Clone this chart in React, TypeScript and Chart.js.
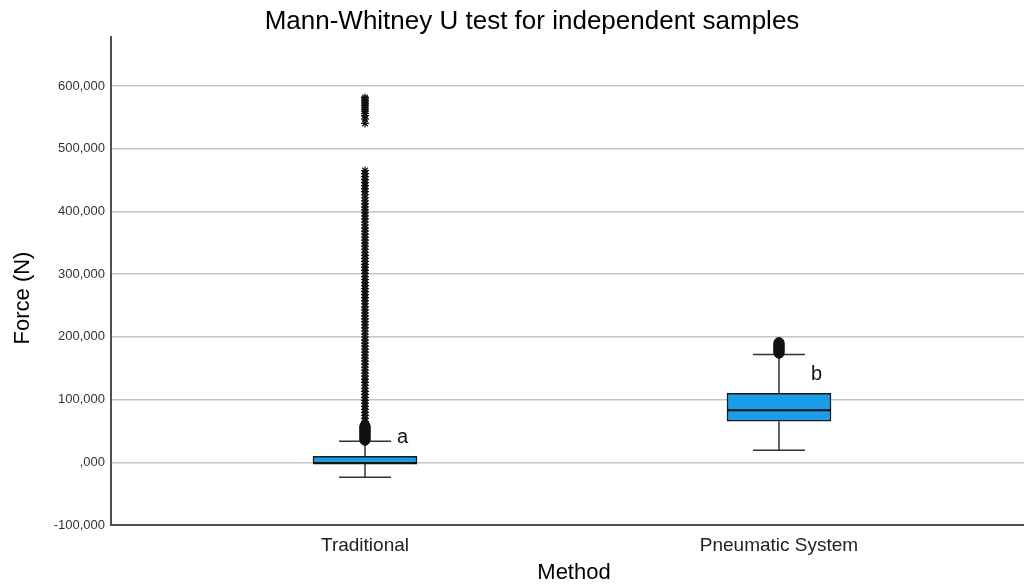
import React, { useEffect, useRef } from 'react';
import { Chart, registerables } from 'chart.js';

Chart.register(...registerables);

// ---- data ----
const categories = ['Traditional', 'Pneumatic System'];
const q1 = [-1600, 65500];
const medians = [-1600, 83000];
const q3 = [9600, 110000];
const whiskerLow = [-24000, 19000];
const whiskerHigh = [33500, 172000];

const tradOutliers = [
  35000, 36400, 37900, 39300, 40800, 42200, 43700, 45100, 46600, 48000, 49500,
  50900, 52400, 53800, 55300, 56700, 58200,
];
const tradExtremes = [
  60500, 65200, 70100, 74800, 79600, 84300, 89200, 94000, 98700, 103500, 108400,
  113100, 118000, 122800, 127500, 132300, 137200, 142000, 146800, 151500, 156400,
  161200, 166000, 170900, 175600, 180400, 185300, 190100, 194800, 199700, 204500,
  209300, 214200, 219000, 223800, 228600, 233400, 238300, 243100, 247900, 252700,
  257600, 262400, 267200, 272100, 276900, 281700, 286500, 291400, 296200, 301000,
  305800, 310700, 315500, 320300, 325200, 330000, 334800, 339600, 344500, 349300,
  354100, 359000, 363800, 368600, 373400, 378300, 383100, 387900, 392700, 397600,
  402400, 407200, 412100, 416900, 421700, 426500, 431400, 436200, 441000, 445800,
  450700, 455500, 460300, 465100,
  540200, 547100, 552800, 556300, 559700, 562900, 566000, 568800, 571500, 574200,
  576800, 579300, 581600,
];
const pneuOutliers = [
  173800, 175300, 176900, 178400, 180000, 181500, 183100, 184600, 186200, 187700,
  189300, 190800,
];

const sigLetters = ['a', 'b'];
const sigLetterY = [30300, 130800];

const yTickValues = [-100000, 0, 100000, 200000, 300000, 400000, 500000, 600000];
const yTickLabels = ['-100,000', ',000', '100,000', '200,000', '300,000', '400,000', '500,000', '600,000'];

const chartTitle = 'Mann-Whitney U test for independent samples';
const xTitle = 'Method';
const yTitle = 'Force (N)';

const FONT = "'Liberation Sans', Arial, sans-serif";
const BOX_COLOR = '#1a9de6';

const boxPlugin = {
  id: 'boxParts',
  beforeDatasetsDraw(chart: any) {
    const { ctx, scales } = chart;
    const x = scales.x;
    const y = scales.y;
    ctx.save();
    ctx.strokeStyle = '#333';
    ctx.lineWidth = 1.5;
    categories.forEach((_, i) => {
      const cx = Math.round(x.getPixelForValue(i));
      const yh = y.getPixelForValue(whiskerHigh[i]);
      const yl = y.getPixelForValue(whiskerLow[i]);
      const half = 26;
      ctx.beginPath();
      ctx.moveTo(cx, y.getPixelForValue(q3[i]));
      ctx.lineTo(cx, yh);
      ctx.moveTo(cx, y.getPixelForValue(q1[i]));
      ctx.lineTo(cx, yl);
      ctx.moveTo(cx - half, yh);
      ctx.lineTo(cx + half, yh);
      ctx.moveTo(cx - half, yl);
      ctx.lineTo(cx + half, yl);
      ctx.stroke();
    });
    ctx.restore();
  },
  afterDatasetsDraw(chart: any) {
    const { ctx, scales } = chart;
    const x = scales.x;
    const y = scales.y;
    ctx.save();
    ctx.strokeStyle = '#111';
    ctx.lineWidth = 2;
    categories.forEach((_, i) => {
      const cx = x.getPixelForValue(i);
      const ym = y.getPixelForValue(medians[i]);
      ctx.beginPath();
      ctx.moveTo(cx - 52, ym);
      ctx.lineTo(cx + 52, ym);
      ctx.stroke();
    });
    ctx.fillStyle = '#111';
    ctx.font = `20px ${FONT}`;
    ctx.textAlign = 'left';
    ctx.textBaseline = 'alphabetic';
    sigLetters.forEach((t, i) => {
      ctx.fillText(t, x.getPixelForValue(i) + 32, y.getPixelForValue(sigLetterY[i]));
    });
    ctx.restore();
  },
  afterDraw(chart: any) {
    const { ctx } = chart;
    ctx.save();
    ctx.fillStyle = '#000';
    ctx.textAlign = 'center';
    ctx.textBaseline = 'middle';
    ctx.font = `26px ${FONT}`;
    ctx.fillText(chartTitle, 532, 22);
    ctx.font = `22px ${FONT}`;
    ctx.fillText(xTitle, 574, 573);
    ctx.translate(23, 298);
    ctx.rotate(-Math.PI / 2);
    ctx.fillText(yTitle, 0, 0);
    ctx.restore();
  },
};

export default function App() {
  const ref = useRef<HTMLCanvasElement | null>(null);
  useEffect(() => {
    if (!ref.current) return;
    const chart = new Chart(ref.current, {
      type: 'scatter',
      data: {
        datasets: [
          {
            type: 'bar',
            data: categories.map((_, i) => ({ x: i, y: [q1[i], q3[i]] })),
            backgroundColor: BOX_COLOR,
            borderColor: '#1a1a1a',
            borderWidth: 1.5,
            borderSkipped: false,
            barThickness: 104,
          } as any,
          {
            type: 'scatter',
            data: tradOutliers.map((v) => ({ x: 0, y: v })),
            pointStyle: 'circle',
            pointRadius: 5,
            backgroundColor: '#111',
            borderColor: '#111',
            borderWidth: 1,
          },
          {
            type: 'scatter',
            data: pneuOutliers.map((v) => ({ x: 1, y: v })),
            pointStyle: 'circle',
            pointRadius: 5,
            backgroundColor: '#111',
            borderColor: '#111',
            borderWidth: 1,
          },
          {
            type: 'scatter',
            data: tradExtremes.map((v) => ({ x: 0, y: v })),
            pointStyle: 'star',
            pointRadius: 4,
            backgroundColor: '#111',
            borderColor: '#111',
            borderWidth: 1.2,
          },
        ],
      },
      options: {
        animation: false,
        responsive: false,
        maintainAspectRatio: false,
        layout: { autoPadding: false, padding: { top: 37, left: 0, right: 0, bottom: 0 } },
        plugins: {
          legend: { display: false },
          tooltip: { enabled: false },
          title: { display: false },
        },
        scales: {
          x: {
            type: 'linear',
            min: -0.6135,
            max: 1.5918,
            offset: false,
            afterBuildTicks: (axis: any) => {
              axis.ticks = categories.map((_, i) => ({ value: i }));
            },
            afterFit: (axis: any) => {
              axis.height = 62;
              axis.paddingLeft = 0;
              axis.paddingRight = 0;
            },
            ticks: {
              callback: (v: any) => categories[v as number],
              font: { family: FONT, size: 19 },
              color: '#222',
              padding: 9,
              maxRotation: 0,
              autoSkip: false,
            },
            grid: { display: false, drawTicks: false },
            border: { display: true, color: '#505050', width: 2 },
          },
          y: {
            type: 'linear',
            min: -100000,
            max: 678000,
            afterBuildTicks: (axis: any) => {
              axis.ticks = yTickValues.map((v) => ({ value: v }));
            },
            afterFit: (axis: any) => {
              axis.width = 111;
            },
            ticks: {
              callback: (v: any) => yTickLabels[yTickValues.indexOf(v as number)],
              font: { family: FONT, size: 13 },
              color: '#333',
              padding: 6,
            },
            grid: { color: '#c4c4c4', lineWidth: 1.5, drawTicks: false },
            border: { display: true, color: '#505050', width: 2 },
          },
        },
      } as any,
      plugins: [boxPlugin],
    });
    return () => chart.destroy();
  }, []);
  return (
    <div style={{ position: 'fixed', left: 0, top: 0, width: 1024, height: 587, background: '#fff' }}>
      <canvas ref={ref} width={1024} height={587} style={{ display: 'block', width: 1024, height: 587 }} />
    </div>
  );
}
